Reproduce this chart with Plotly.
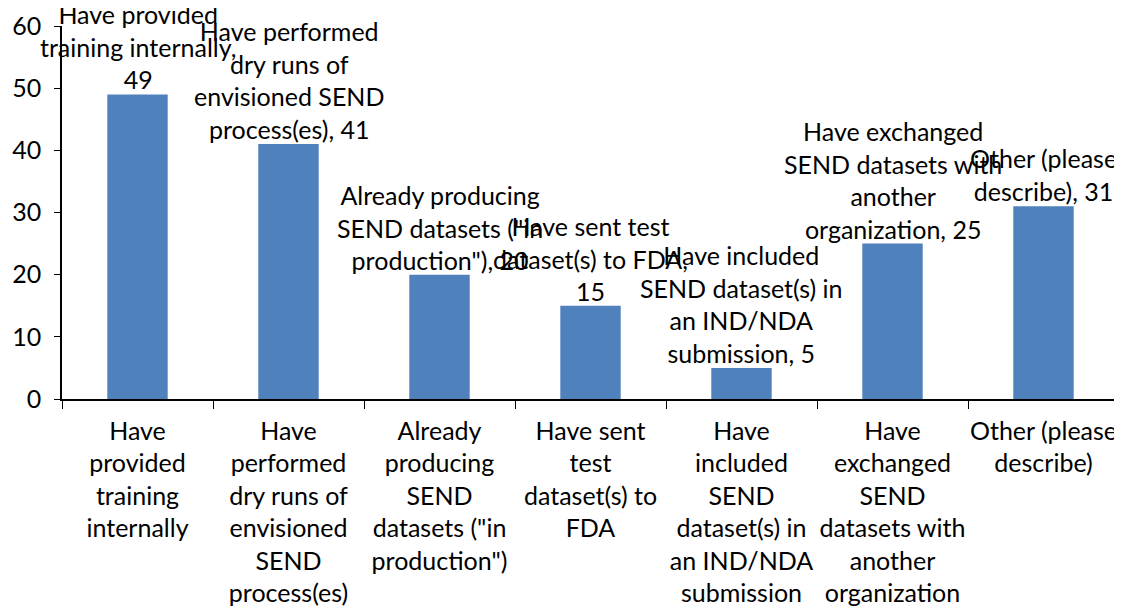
import plotly.graph_objects as go

# Survey categories (axis labels, wrapped as in the source chart)
categories = [
    "Have<br>provided<br>training<br>internally",
    "Have<br>performed<br>dry runs of<br>envisioned<br>SEND<br>process(es)",
    "Already<br>producing<br>SEND<br>datasets (\"in<br>production\")",
    "Have sent<br>test<br>dataset(s) to<br>FDA",
    "Have<br>included<br>SEND<br>dataset(s) in<br>an IND/NDA<br>submission",
    "Have<br>exchanged<br>SEND<br>datasets with<br>another<br>organization",
    "Other (please<br>describe)",
]
counts = [49, 41, 20, 15, 5, 25, 31]

# Data labels: category name + value
point_labels = [
    "Have provided<br>training internally,<br>49",
    "Have performed<br>dry runs of<br>envisioned SEND<br>process(es), 41",
    "Already producing<br>SEND datasets (\"in<br>production\"), 20",
    "Have sent test<br>dataset(s) to FDA,<br>15",
    "Have included<br>SEND dataset(s) in<br>an IND/NDA<br>submission, 5",
    "Have exchanged<br>SEND datasets with<br>another<br>organization, 25",
    "Other (please<br>describe), 31",
]

FONT = dict(family="Lato, Calibri, sans-serif", size=25, color="#000000")

fig = go.Figure()
fig.add_bar(x=categories, y=counts, marker=dict(color="#4F81BD", line=dict(width=0)),
            width=0.4, showlegend=False)

for cat, val, txt in zip(categories, counts, point_labels):
    fig.add_annotation(x=cat, y=val, text=txt, showarrow=False, yanchor="bottom",
                       xanchor="center", yshift=-2, font=FONT)

# page body adds an 8px offset, so the figure is sized/margined to compensate
fig.update_layout(
    width=1114, height=600,
    margin=dict(l=54, r=3, t=18, b=209),
    plot_bgcolor="white", paper_bgcolor="white",
    font=FONT,
    xaxis=dict(type="category", range=[-0.5, 6.5], tickson="boundaries", tickangle=0,
               showline=True, linecolor="black", linewidth=1.5, ticks="outside", ticklen=8,
               tickcolor="black", showgrid=False, automargin=False, ticklabelstandoff=9),
    yaxis=dict(range=[0, 60], dtick=10, showline=True, linecolor="black", linewidth=1.5,
               ticks="outside", ticklen=6, tickcolor="black", showgrid=False, zeroline=False,
               automargin=False, ticklabelstandoff=8),
)

fig.write_html("out.html")
